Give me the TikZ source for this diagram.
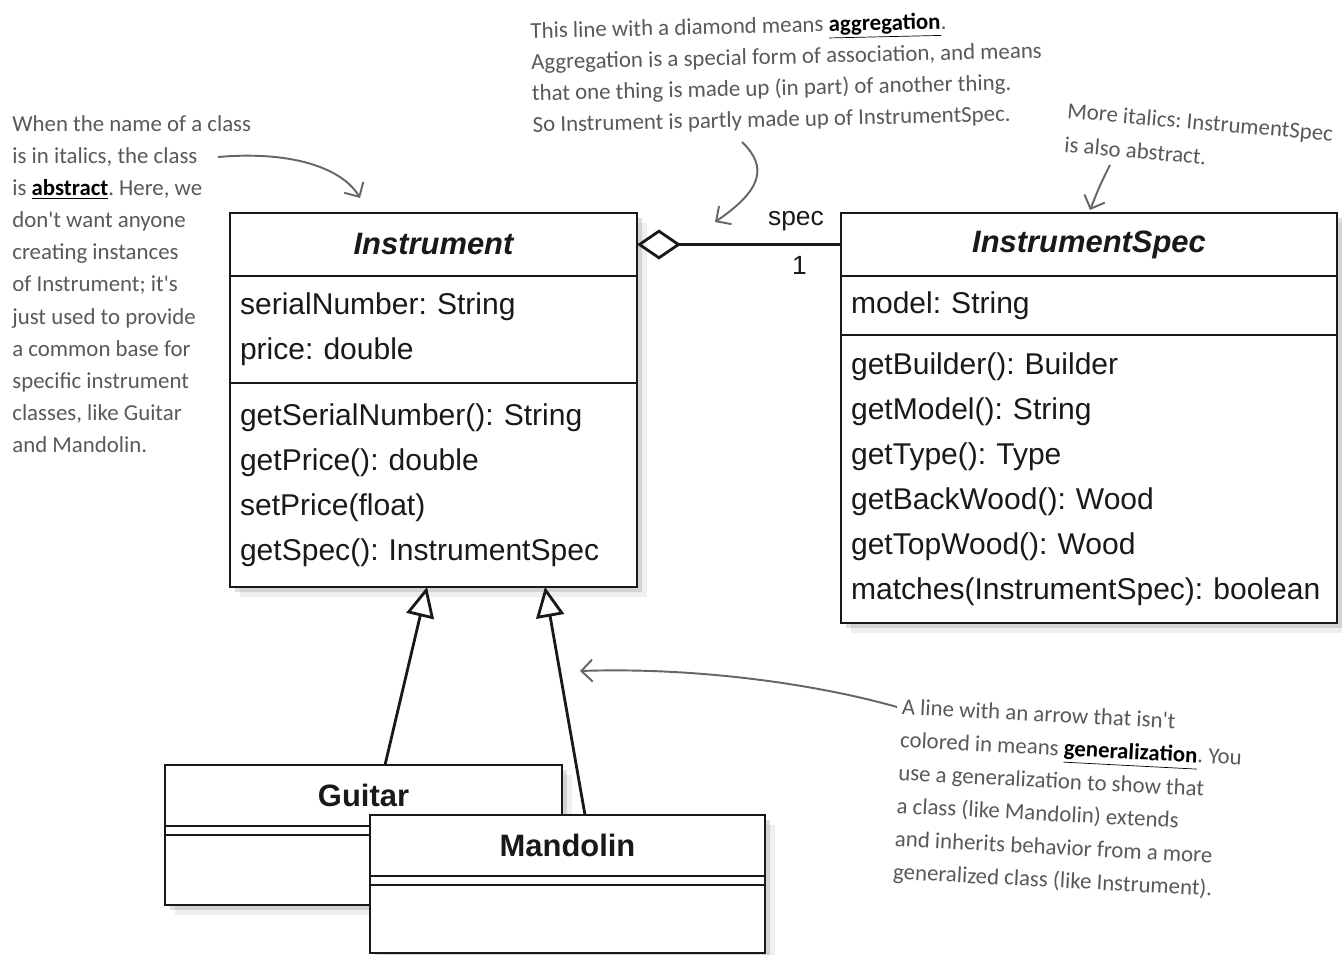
\documentclass[tikz,border=0pt]{standalone}
\usepackage{fontspec}
\setmainfont{Liberation Sans}
\newfontfamily\handfont{Carlito}
\usetikzlibrary{positioning,arrows.meta,shadows}
\frenchspacing

\newcommand{\hilite}[1]{\textcolor{black}{\bfseries\underline{#1}}}

\begin{document}
\begin{tikzpicture}[x=0.02cm, y=-0.02cm,
    part/.style={draw=black!90, line width=1.6pt, fill=white, outer sep=0pt,
                 inner xsep=0.2cm, align=left, text=black!90,
                 font=\fontsize{17.1}{25.6}\selectfont,
                 drop shadow={opacity=0.12, shadow xshift=0.2cm, shadow yshift=-0.2cm},
                 drop shadow={opacity=0.25, shadow xshift=0.1cm, shadow yshift=-0.1cm}},
    title/.style={part, align=center, font=\fontsize{17.6}{20}\selectfont\bfseries},
    gap/.style={part, inner ysep=0pt},
    gen/.style={draw=black!90, line width=1.6pt,
                -{Triangle[open, length=0.6cm, width=0.56cm]}},
    note/.style={align=left, inner sep=0pt, text=black!65,
                 font=\handfont\fontsize{13}{18.3}\selectfont},
    pointer/.style={draw=black!60, line width=1.1pt,
                    -{Straight Barb[length=0.22cm, width=0.44cm]}},
    lbl/.style={font=\fontsize{15}{18}\selectfont, text=black!90}
  ]
  \useasboundingbox (0,0) rectangle (1342,954);
  \fill[white] (0,0) rectangle (1342,954);

  % Instrument
  \node[title, minimum width=8.14cm, minimum height=1.26cm] (inst) at (433.5,244.5) {\itshape Instrument};
  \node[part, text width=7.74cm, minimum height=2.14cm, below=0pt of inst] (instattr)
    {serialNumber: String\\price: double};
  \node[part, text width=7.74cm, minimum height=4.08cm, below=0pt of instattr] (instops)
    {getSerialNumber(): String\\getPrice(): double\\setPrice(float)\\getSpec(): InstrumentSpec};

  % InstrumentSpec
  \node[title, minimum width=9.92cm, minimum height=1.26cm] (spec) at (1089,244.5) {\itshape InstrumentSpec};
  \node[part, text width=9.52cm, minimum height=1.18cm, below=0pt of spec] (specattr) {model: String};
  \node[part, text width=9.52cm, minimum height=5.76cm, below=0pt of specattr] (specops)
    {getBuilder(): Builder\\getModel(): String\\getType(): Type\\getBackWood(): Wood\\getTopWood(): Wood\\matches(InstrumentSpec): boolean};

  % aggregation
  \draw[line width=1.6pt, draw=black!90, {Diamond[open, length=0.88cm, width=0.6cm]}-] (inst) -- (spec)
    node[lbl, pos=1, anchor=south east, xshift=-0.2cm, yshift=0.12cm] (role) {spec}
    node[lbl, pos=1, anchor=north east, xshift=-0.54cm, yshift=-0.1cm] (mult) {1};

  % Guitar
  \node[title, minimum width=7.94cm, minimum height=1.22cm] (guitar) at (363.5,795.5) {Guitar};
  \node[gap, text width=7.54cm, minimum height=0.18cm, below=0pt of guitar] (guitarattr) {};
  \node[part, text width=7.54cm, minimum height=1.4cm, below=0pt of guitarattr] (guitarops) {};

  % Mandolin
  \node[title, minimum width=7.9cm, minimum height=1.22cm] (mando) at (567.5,845.5) {Mandolin};
  \node[gap, text width=7.5cm, minimum height=0.18cm, below=0pt of mando] (mandoattr) {};
  \node[part, text width=7.5cm, minimum height=1.36cm, below=0pt of mandoattr] (mandoops) {};

  % generalization
  \draw[gen] ([xshift=0.43cm]guitar.north) -- ([xshift=-0.13cm]instops.south);
  \draw[gen] ([xshift=0.35cm]mando.north) -- ([xshift=2.23cm]instops.south);

  % notes
  \node[note, anchor=north west] (absnote) at (12,115)
    {When the name of a class\\is in italics, the class\\is \hilite{abstract}. Here, we\\don't want anyone\\creating instances\\of Instrument; it's\\just used to provide\\a common base for\\specific instrument\\classes, like Guitar\\and Mandolin.};
  \node[note, anchor=north west, rotate=1.3, font=\handfont\fontsize{13}{17.8}\selectfont] (aggnote) at (530,22)
    {This line with a diamond means \hilite{aggregation}.\\Aggregation is a special form of association, and means\\that one thing is made up (in part) of another thing.\\So Instrument is partly made up of InstrumentSpec.};
  \node[note, anchor=north west, rotate=-5, font=\handfont\fontsize{13}{19.5}\selectfont] (specnote) at (1068,102)
    {More italics: InstrumentSpec\\is also abstract.};
  \node[note, anchor=north west, rotate=-3, font=\handfont\fontsize{13}{18.8}\selectfont] (gennote) at (902,698)
    {A line with an arrow that isn't\\colored in means \hilite{generalization}. You\\use a generalization to show that\\a class (like Mandolin) extends\\and inherits behavior from a more\\generalized class (like Instrument).};

  % note pointers
  \coordinate (abs_from) at (218,157);
  \coordinate (abs_to) at (360,198);
  \coordinate (agg_from) at (742,142);
  \coordinate (agg_to) at (715,222);
  \coordinate (spec_from) at (1110,165);
  \coordinate (spec_to) at (1090,210);
  \coordinate (gen_from) at (897,707);
  \coordinate (gen_to) at (580,671);
  \draw[pointer] (abs_from) .. controls (300,150) and (345,172) .. (abs_to);
  \draw[pointer] (agg_from) .. controls (768,167) and (762,190) .. (agg_to);
  \draw[pointer] (spec_from) .. controls (1100,185) .. (spec_to);
  \draw[pointer] (gen_from) .. controls (820,685) and (700,667) .. (gen_to);
\end{tikzpicture}
\end{document}
